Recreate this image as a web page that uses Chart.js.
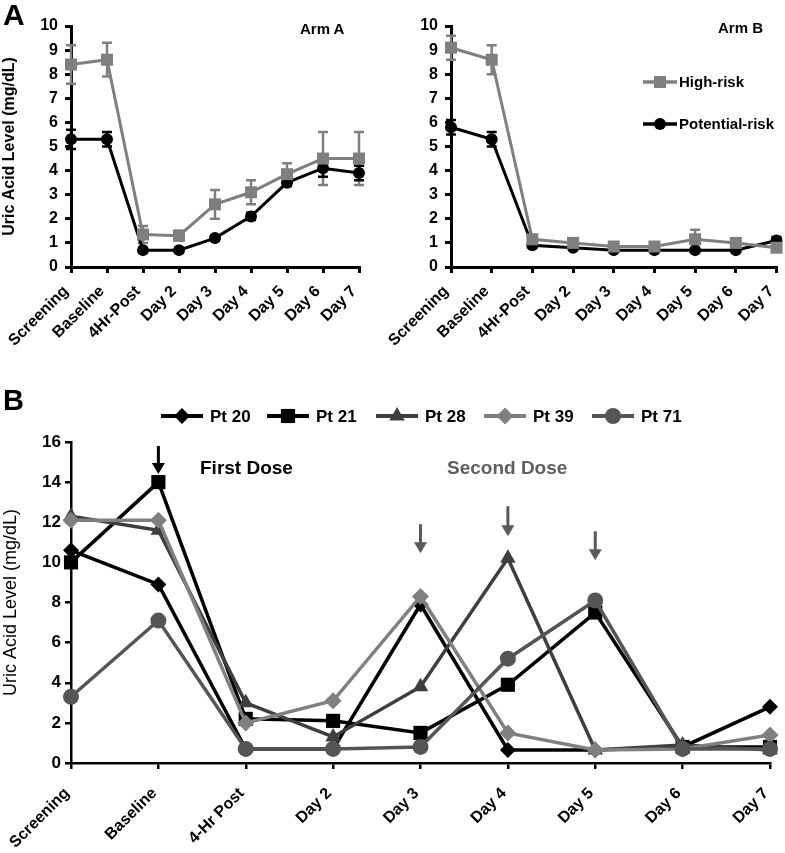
<!DOCTYPE html>
<html><head><meta charset="utf-8">
<script src="https://cdn.jsdelivr.net/npm/chart.js@4.4.1/dist/chart.umd.min.js"></script>
<style>
html,body{margin:0;padding:0;background:#fff;}
body{width:785px;height:853px;position:relative;overflow:hidden;font-family:"Liberation Sans",Arial,sans-serif;}
canvas{position:absolute;}
.t{position:absolute;line-height:1;white-space:nowrap;font-weight:bold;color:#000;}
</style></head><body>
<canvas id="armA" width="385" height="370" style="left:0;top:0"></canvas>
<canvas id="armB" width="400" height="370" style="left:385px;top:0"></canvas>
<canvas id="pts" width="785" height="481" style="left:0;top:372px"></canvas>
<div class="t" style="left:3px;top:0;font-size:30px">A</div>
<div class="t" style="left:3px;top:386px;font-size:29px">B</div>
<div class="t" style="left:300px;top:21px;font-size:15px">Arm A</div>
<div class="t" style="left:718px;top:20px;font-size:15px">Arm B</div>
<div class="t" style="left:200px;top:458px;font-size:19px">First Dose</div>
<div class="t" style="left:447px;top:458px;font-size:19px;color:#5f5f5f">Second Dose</div>
<script>
// ---------------- data ----------------
const armCategories = ['Screening', 'Baseline', '4Hr-Post', 'Day 2', 'Day 3', 'Day 4', 'Day 5', 'Day 6', 'Day 7'];
const armYTicks = [0, 1, 2, 3, 4, 5, 6, 7, 8, 9, 10];

const armAHighRisk      = [8.4, 8.6, 1.35, 1.3, 2.6, 3.1, 3.85, 4.5, 4.5];
const armAHighRiskErr   = [0.8, 0.7, 0.35, 0.2, 0.6, 0.5, 0.45, 1.1, 1.1];
const armAPotentialRisk = [5.3, 5.3, 0.7, 0.7, 1.2, 2.1, 3.5, 4.1, 3.9];
const armAPotentialErr  = [0.4, 0.3, 0.1, 0.1, 0.1, 0.15, 0.15, 0.35, 0.3];

const armBHighRisk      = [9.1, 8.6, 1.15, 1.0, 0.85, 0.85, 1.15, 1.0, 0.8];
const armBHighRiskErr   = [0.5, 0.6, 0.15, 0.1, 0.1, 0.1, 0.4, 0.1, 0.1];
const armBPotentialRisk = [5.8, 5.3, 0.9, 0.8, 0.7, 0.7, 0.7, 0.7, 1.1];
const armBPotentialErr  = [0.3, 0.3, 0.1, 0.05, 0.05, 0.05, 0.05, 0.05, 0.15];

const ptCategories = ['Screening', 'Baseline', '4-Hr Post', 'Day 2', 'Day 3', 'Day 4', 'Day 5', 'Day 6', 'Day 7'];
const ptYTicks = [0, 2, 4, 6, 8, 10, 12, 14, 16];
const pt20 = [10.6, 8.9, 0.7, 0.7, 7.9, 0.65, 0.65, 0.8, 2.8];
const pt21 = [10.0, 14.0, 2.2, 2.1, 1.5, 3.9, 7.5, 0.8, 0.8];
const pt28 = [12.3, 11.6, 3.0, 1.3, 3.8, 10.2, 0.65, 0.9, 0.65];
const pt39 = [12.1, 12.1, 2.0, 3.1, 8.3, 1.5, 0.65, 0.7, 1.4];
const pt71 = [3.3, 7.1, 0.7, 0.7, 0.8, 5.2, 8.1, 0.7, 0.7];

const firstDoseArrowCats = ['Baseline'];
const firstDoseArrowFrom = [15.8];
const firstDoseArrowTo   = [14.4];
const secondDoseArrowCats = ['Day 3', 'Day 4', 'Day 5'];
const secondDoseArrowFrom = [11.9, 12.8, 11.55];
const secondDoseArrowTo   = [10.45, 11.3, 10.1];

// ---------------- setup ----------------
const FONT = '"Liberation Sans", Arial, sans-serif';
Chart.defaults.font.family = FONT;
Chart.defaults.color = '#000';
Chart.defaults.animation = false;

const errorBarPlugin = {
  id: 'errorBars',
  beforeDatasetsDraw(chart) {
    const ctx = chart.ctx, ys = chart.scales.y;
    chart.data.datasets.forEach((ds, i) => {
      if (!ds.errors) return;
      const meta = chart.getDatasetMeta(i);
      ctx.save();
      ctx.strokeStyle = ds.borderColor;
      ctx.lineWidth = 2.5;
      meta.data.forEach((pt, j) => {
        const v = ds.data[j], e = ds.errors[j];
        const yt = ys.getPixelForValue(v + e), yb = ys.getPixelForValue(v - e);
        ctx.beginPath();
        ctx.moveTo(pt.x, yt); ctx.lineTo(pt.x, yb);
        ctx.moveTo(pt.x - 5, yt); ctx.lineTo(pt.x + 5, yt);
        ctx.moveTo(pt.x - 5, yb); ctx.lineTo(pt.x + 5, yb);
        ctx.stroke();
      });
      ctx.restore();
    });
  }
};

function drawMarker(ctx, ds, x, y) {
  ctx.fillStyle = ds.pointBackgroundColor;
  ctx.strokeStyle = ds.pointBorderColor;
  Chart.helpers.drawPoint(ctx, {pointStyle: ds.pointStyle, radius: ds.pointRadius, rotation: 0, borderWidth: 0}, x, y);
}

function makeLegend(items, half, gap, font) {
  return {
    id: 'lineLegend',
    afterDraw(chart) {
      const ctx = chart.ctx;
      items.forEach(it => {
        const ds = chart.data.datasets[it.ds];
        ctx.save();
        ctx.strokeStyle = ds.borderColor;
        ctx.lineWidth = ds.borderWidth + 0.5;
        ctx.beginPath(); ctx.moveTo(it.x - half, it.y); ctx.lineTo(it.x + half, it.y); ctx.stroke();
        drawMarker(ctx, ds, it.x, it.y);
        ctx.fillStyle = '#000';
        ctx.font = font;
        ctx.textBaseline = 'middle';
        ctx.textAlign = 'left';
        ctx.fillText(ds.label, it.x + half + gap, it.y + 1);
        ctx.restore();
      });
    }
  };
}

const doseArrowPlugin = {
  id: 'doseArrows',
  afterDatasetsDraw(chart) {
    const ctx = chart.ctx, xs = chart.scales.x, ys = chart.scales.y;
    const draw = (cat, from, to, color) => {
      const x = xs.getPixelForValue(ptCategories.indexOf(cat));
      const y1 = ys.getPixelForValue(from), y2 = ys.getPixelForValue(to);
      const head = 11, hw = 6.5;
      ctx.save();
      ctx.strokeStyle = color; ctx.fillStyle = color; ctx.lineWidth = 3;
      ctx.beginPath(); ctx.moveTo(x, y1); ctx.lineTo(x, y2 - head + 1); ctx.stroke();
      ctx.beginPath(); ctx.moveTo(x - hw, y2 - head); ctx.lineTo(x + hw, y2 - head); ctx.lineTo(x, y2); ctx.closePath(); ctx.fill();
      ctx.restore();
    };
    firstDoseArrowCats.forEach((c, i) => draw(c, firstDoseArrowFrom[i], firstDoseArrowTo[i], '#000'));
    secondDoseArrowCats.forEach((c, i) => draw(c, secondDoseArrowFrom[i], secondDoseArrowTo[i], '#5a5a5a'));
  }
};

function axisStyle(w) {
  return {
    grid: {display: true, drawOnChartArea: false, drawTicks: true, tickLength: 6, color: '#000', lineWidth: w},
    border: {display: true, color: '#000', width: w}
  };
}

function fixXHeight(h) {
  return function (s) { s.height = h; s.paddingRight = 0; s.paddingLeft = 0; };
}

function armScales(showTitle, yWidth, xHeight) {
  return {
    x: Object.assign({
      type: 'category', offset: false,
      ticks: {autoSkip: false, maxRotation: 45, minRotation: 45, padding: 9, labelOffset: -5, font: {size: 16, weight: 'bold'}, color: '#000'},
      afterFit: fixXHeight(xHeight)
    }, axisStyle(3)),
    y: Object.assign({
      min: armYTicks[0], max: armYTicks[armYTicks.length - 1],
      ticks: {stepSize: armYTicks[1] - armYTicks[0], padding: 7, font: {size: 16, weight: 'bold'}, color: '#000'},
      title: {display: showTitle, text: 'Uric Acid Level (mg/dL)', font: {size: 16, weight: 'bold'}, color: '#000', padding: 0},
      afterFit(s) { s.width = yWidth; }
    }, axisStyle(3))
  };
}

function armDatasets(high, highErr, pot, potErr) {
  return [
    {label: 'High-risk', data: high, errors: highErr, borderColor: '#7f7f7f', backgroundColor: '#7f7f7f',
     pointBackgroundColor: '#7f7f7f', pointBorderColor: '#7f7f7f', pointStyle: 'rect', pointRadius: 8.5,
     pointBorderWidth: 0, borderWidth: 3, tension: 0, clip: false},
    {label: 'Potential-risk', data: pot, errors: potErr, borderColor: '#000', backgroundColor: '#000',
     pointBackgroundColor: '#000', pointBorderColor: '#000', pointStyle: 'circle', pointRadius: 6,
     pointBorderWidth: 0, borderWidth: 3, tension: 0, clip: false}
  ];
}

new Chart(document.getElementById('armA'), {
  type: 'line',
  data: {labels: armCategories, datasets: armDatasets(armAHighRisk, armAHighRiskErr, armAPotentialRisk, armAPotentialErr)},
  options: {
    responsive: false, devicePixelRatio: 1,
    layout: {padding: {top: 26, right: 26, left: 0, bottom: 0}},
    plugins: {legend: {display: false}, tooltip: {enabled: false}},
    scales: armScales(true, 71, 103)
  },
  plugins: [errorBarPlugin]
});

new Chart(document.getElementById('armB'), {
  type: 'line',
  data: {labels: armCategories, datasets: armDatasets(armBHighRisk, armBHighRiskErr, armBPotentialRisk, armBPotentialErr)},
  options: {
    responsive: false, devicePixelRatio: 1,
    layout: {padding: {top: 26, right: 7, left: 0, bottom: 0}},
    plugins: {legend: {display: false}, tooltip: {enabled: false}},
    scales: armScales(false, 66, 103)
  },
  plugins: [errorBarPlugin, makeLegend([{ds: 0, x: 275, y: 82}, {ds: 1, x: 275, y: 124}], 17, 2, 'bold 15px ' + FONT)]
});

function ptDataset(label, data, color, style, radius, order) {
  return {label, data, borderColor: color, backgroundColor: color, pointBackgroundColor: color, pointBorderColor: color,
          pointStyle: style, pointRadius: radius, pointBorderWidth: 0, borderWidth: 3.5, tension: 0, clip: false, order};
}

new Chart(document.getElementById('pts'), {
  type: 'line',
  data: {
    labels: ptCategories,
    datasets: [
      ptDataset('Pt 20', pt20, '#000000', 'rectRot', 8, 5),
      ptDataset('Pt 21', pt21, '#000000', 'rect', 10, 4),
      ptDataset('Pt 28', pt28, '#3e3e3e', 'triangle', 9, 3),
      ptDataset('Pt 39', pt39, '#808080', 'rectRot', 8.5, 2),
      ptDataset('Pt 71', pt71, '#555555', 'circle', 8, 1)
    ]
  },
  options: {
    responsive: false, devicePixelRatio: 1,
    layout: {padding: {top: 70, right: 15, left: 0, bottom: 0}},
    plugins: {legend: {display: false}, tooltip: {enabled: false}},
    scales: {
      x: Object.assign({
        type: 'category', offset: false,
        ticks: {autoSkip: false, maxRotation: 45, minRotation: 45, padding: 15, labelOffset: -4, font: {size: 16, weight: 'bold'}, color: '#000'},
        afterFit: fixXHeight(90)
      }, axisStyle(2.5)),
      y: Object.assign({
        min: ptYTicks[0], max: ptYTicks[ptYTicks.length - 1],
        ticks: {stepSize: ptYTicks[1] - ptYTicks[0], padding: 4, font: {size: 17, weight: 'bold'}, color: '#000'},
        title: {display: true, text: 'Uric Acid Level (mg/dL)', font: {size: 18, weight: 'normal'}, color: '#000', padding: 0},
        afterFit(s) { s.width = 71; }
      }, axisStyle(2.5))
    }
  },
  plugins: [doseArrowPlugin, makeLegend([
    {ds: 0, x: 182, y: 44}, {ds: 1, x: 288, y: 44}, {ds: 2, x: 397, y: 44}, {ds: 3, x: 505, y: 44}, {ds: 4, x: 613, y: 44}
  ], 21, 7, 'bold 17px ' + FONT)]
});
</script>
</body></html>
